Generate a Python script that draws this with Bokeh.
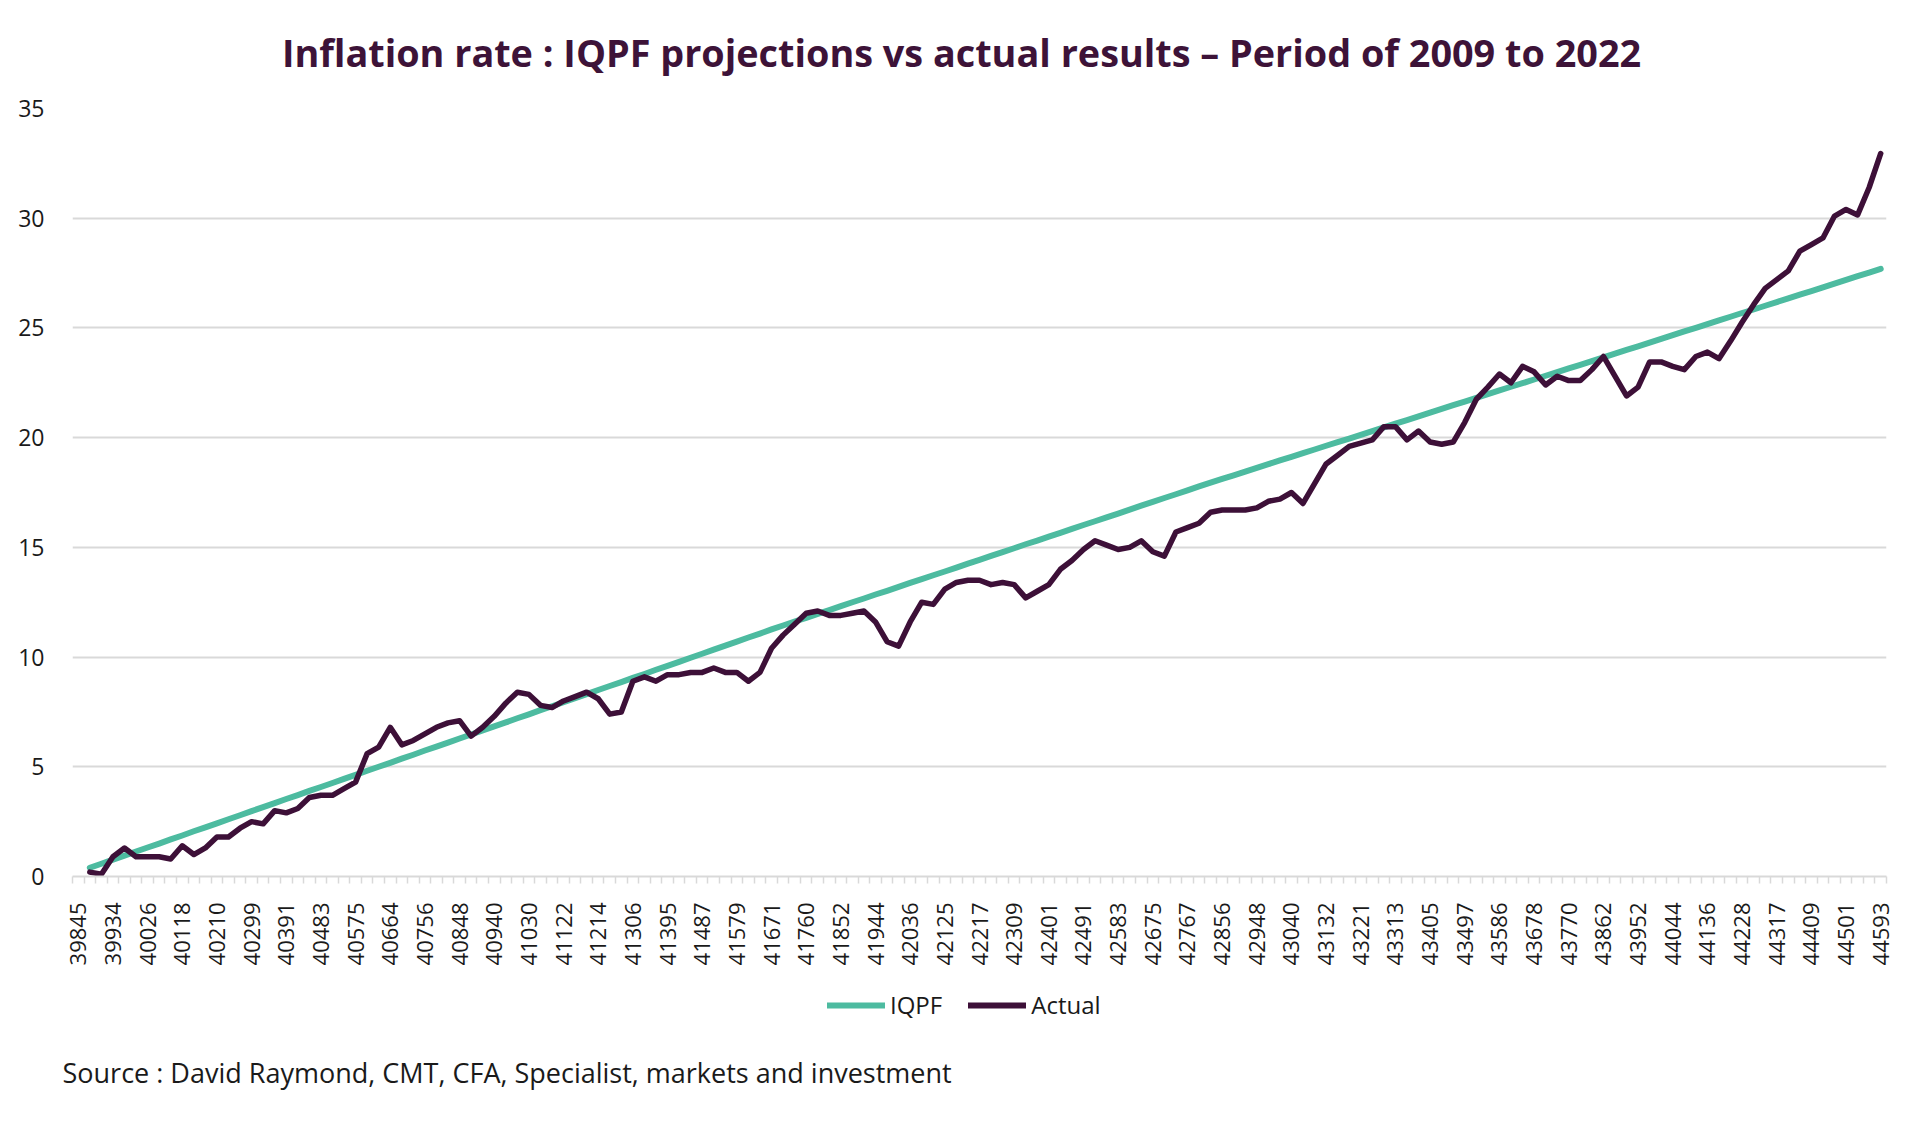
import pandas as pd
from math import pi
from bokeh.plotting import figure
from bokeh.layouts import column
from bokeh.models import (FixedTicker, Legend, LegendItem, Range1d, Title, Label,
                          ColumnDataSource)
from bokeh.embed import file_html
from bokeh.resources import INLINE

title_text = "Inflation rate : IQPF projections vs actual results \u2013 Period of 2009 to 2022"
source_text = "Source : David Raymond, CMT, CFA, Specialist, markets and investment"

# Category axis: monthly Excel serial dates, Feb 2009 .. Feb 2022
month_dates = pd.date_range("2009-02-01", "2022-02-01", freq="MS")
serials = [(d - pd.Timestamp("1899-12-30")).days for d in month_dates]

tick_labels = ["39845", "39934", "40026", "40118", "40210", "40299", "40391", "40483",
               "40575", "40664", "40756", "40848", "40940", "41030", "41122", "41214",
               "41306", "41395", "41487", "41579", "41671", "41760", "41852", "41944",
               "42036", "42125", "42217", "42309", "42401", "42491", "42583", "42675",
               "42767", "42856", "42948", "43040", "43132", "43221", "43313", "43405",
               "43497", "43586", "43678", "43770", "43862", "43952", "44044", "44136",
               "44228", "44317", "44409", "44501", "44593"]

# data months: Mar 2009 .. Feb 2022 (first category has no value)
data_serials = serials[1:]

iqpf = [0.40, 0.58, 0.77, 0.95, 1.14, 1.32, 1.50, 1.69, 1.87, 2.06, 2.24,
        2.42, 2.61, 2.79, 2.98, 3.16, 3.34, 3.53, 3.71, 3.90, 4.08,
        4.26, 4.45, 4.63, 4.82, 5.00, 5.18, 5.37, 5.55, 5.74, 5.92,
        6.10, 6.29, 6.47, 6.66, 6.84, 7.02, 7.21, 7.39, 7.58, 7.76,
        7.94, 8.13, 8.31, 8.50, 8.68, 8.86, 9.05, 9.23, 9.42, 9.60,
        9.78, 9.97, 10.15, 10.34, 10.52, 10.70, 10.89, 11.07, 11.26, 11.44,
        11.62, 11.79, 11.97, 12.14, 12.32, 12.50, 12.67, 12.85, 13.02, 13.20,
        13.38, 13.55, 13.73, 13.90, 14.08, 14.26, 14.43, 14.61, 14.78, 14.96,
        15.14, 15.31, 15.49, 15.66, 15.84, 16.02, 16.19, 16.37, 16.54, 16.72,
        16.90, 17.07, 17.25, 17.42, 17.60, 17.78,
        17.95, 18.12, 18.28, 18.45,
        18.62, 18.79, 18.96, 19.12, 19.29, 19.46, 19.63, 19.80, 19.96, 20.13,
        20.30, 20.47, 20.64, 20.80, 20.97, 21.14, 21.31, 21.48, 21.64, 21.81,
        21.98, 22.15, 22.32, 22.48, 22.65, 22.82, 22.99, 23.16, 23.32, 23.49,
        23.66, 23.83, 24.00, 24.16, 24.33, 24.50, 24.67, 24.84, 25.00, 25.17,
        25.34, 25.51, 25.68, 25.84, 26.01, 26.18, 26.35, 26.52, 26.68, 26.85,
        27.02, 27.19, 27.36, 27.52, 27.69]

actual = [0.2, 0.1, 0.9, 1.3, 0.9, 0.9, 0.9, 0.8, 1.4, 1.0,
          1.3, 1.8, 1.8, 2.2, 2.5, 2.4, 3.0, 2.9, 3.1, 3.6,
          3.7, 3.7, 4.0, 4.3, 5.6, 5.9, 6.8, 6.0, 6.2, 6.5,
          6.8, 7.0, 7.1, 6.4, 6.8, 7.3, 7.9, 8.4, 8.3, 7.8,
          7.7, 8.0, 8.2, 8.4, 8.1, 7.4, 7.5, 8.9, 9.1, 8.9,
          9.2, 9.2, 9.3, 9.3, 9.5, 9.3, 9.3, 8.9, 9.3, 10.4,
          11.0, 11.5, 12.0, 12.1, 11.9, 11.9, 12.0, 12.1, 11.6, 10.7,
          10.5, 11.6, 12.5, 12.4, 13.1, 13.4, 13.5, 13.5, 13.3, 13.4,
          13.3, 12.7, 13.0, 13.3, 14.0, 14.4, 14.9, 15.3, 15.1, 14.9,
          15.0, 15.3, 14.8, 14.6, 15.7, 15.9, 16.1, 16.6, 16.7, 16.7,
          16.7, 16.8, 17.1, 17.2, 17.5, 17.0, 17.9, 18.8, 19.2, 19.6,
          19.75, 19.9, 20.5, 20.5, 19.9, 20.3, 19.8, 19.7, 19.8, 20.7,
          21.75, 22.3, 22.9, 22.5, 23.25, 23.0, 22.4, 22.8, 22.6, 22.6,
          23.1, 23.7, 22.8, 21.9, 22.3, 23.45, 23.45, 23.25, 23.1, 23.7,
          23.9, 23.6, 24.4, 25.26, 26.06, 26.8, 27.2, 27.6, 28.5, 28.8,
          29.1, 30.1, 30.4, 30.15, 31.4, 32.95]

y_ticks = [0, 5, 10, 15, 20, 25, 30, 35]

IQPF_COLOR = "#4DBBA0"
ACTUAL_COLOR = "#3D1038"
TITLE_COLOR = "#3D1338"
GRID_COLOR = "#D9D9D9"
TEXT_COLOR = "#1A1A1A"
FONT = "Open Sans"

# positions along the category axis
pos = {s: i for i, s in enumerate(serials)}
x_data = [pos[s] for s in data_serials]
tick_pos = [pos[int(t)] for t in tick_labels]

src = ColumnDataSource(dict(x=x_data, iqpf=iqpf, actual=actual))


def blank_strip(height, bottom=0):
    f = figure(width=1920, height=height, output_backend="svg", toolbar_location=None,
               x_range=Range1d(-0.5, len(serials) - 0.5), y_range=Range1d(-20, -10),
               x_axis_type=None, y_axis_type=None,
               min_border_left=72, min_border_right=34,
               min_border_top=0, min_border_bottom=bottom)
    f.title = None
    f.outline_line_color = None
    f.xgrid.visible = False
    f.ygrid.visible = False
    f.background_fill_color = "white"
    f.border_fill_color = "white"
    return f


# ---------------- header: title ----------------
head = blank_strip(80)
head.add_layout(Label(x=889, y=28, x_units="screen", y_units="screen",
                      text=title_text, text_align="center", text_baseline="middle",
                      text_font=FONT, text_font_style="bold",
                      text_font_size="37.8px", text_color=TITLE_COLOR))

# ---------------- main chart ----------------
p = figure(width=1920, height=896, output_backend="svg", toolbar_location=None,
           x_range=Range1d(-0.5, len(serials) - 0.5), y_range=Range1d(0, 35),
           min_border_left=72, min_border_right=34, min_border_top=28,
           min_border_bottom=100)
p.title = None
p.outline_line_color = None
p.background_fill_color = "white"
p.border_fill_color = "white"

p.line("x", "iqpf", source=src, line_color=IQPF_COLOR, line_width=6,
       line_join="round", line_cap="round")
p.line("x", "actual", source=src, line_color=ACTUAL_COLOR, line_width=5.5,
       line_join="round", line_cap="round")

# y axis
p.yaxis.ticker = FixedTicker(ticks=y_ticks)
p.yaxis.axis_line_color = None
p.yaxis.major_tick_line_color = None
p.yaxis.minor_tick_line_color = None
p.yaxis.major_tick_out = 0
p.yaxis.major_label_standoff = 28
p.yaxis.major_label_text_font = FONT
p.yaxis.major_label_text_font_size = "23px"
p.yaxis.major_label_text_color = TEXT_COLOR
p.ygrid.ticker = FixedTicker(ticks=y_ticks)
p.ygrid.grid_line_color = GRID_COLOR
p.ygrid.grid_line_width = 2
p.xgrid.grid_line_color = None

# x axis (category style)
boundaries = [i - 0.5 for i in range(len(serials) + 1)]
p.xaxis.ticker = FixedTicker(ticks=tick_pos, minor_ticks=boundaries)
p.xaxis.major_label_overrides = {tp: lab for tp, lab in zip(tick_pos, tick_labels)}
p.xaxis.major_label_orientation = pi / 2
p.xaxis.axis_line_color = GRID_COLOR
p.xaxis.axis_line_width = 2
p.xaxis.major_tick_line_color = None
p.xaxis.major_tick_out = 0
p.xaxis.major_tick_in = 0
p.xaxis.minor_tick_line_color = GRID_COLOR
p.xaxis.minor_tick_line_width = 1.5
p.xaxis.minor_tick_out = 7
p.xaxis.minor_tick_in = 0
p.xaxis.major_label_standoff = 19
p.xaxis.major_label_text_font = FONT
p.xaxis.major_label_text_font_size = "22px"
p.xaxis.major_label_text_color = TEXT_COLOR

# ---------------- footer: legend + source ----------------
# the series are drawn again here outside the visible y range, only to feed the legend
foot = blank_strip(145, bottom=75)
k_iqpf = foot.line("x", "iqpf", source=src, line_color=IQPF_COLOR, line_width=6,
                   line_cap="round")
k_act = foot.line("x", "actual", source=src, line_color=ACTUAL_COLOR, line_width=6,
                  line_cap="round")

legend = Legend(items=[LegendItem(label="IQPF", renderers=[k_iqpf]),
                       LegendItem(label="Actual", renderers=[k_act])],
                orientation="horizontal", location=(755, 25),
                glyph_width=58, glyph_height=30, label_height=30,
                label_standoff=5, spacing=26, padding=0, margin=0,
                border_line_color=None, background_fill_alpha=0,
                label_text_font=FONT, label_text_font_size="24px",
                label_text_color=TEXT_COLOR)
foot.add_layout(legend, "center")

foot.add_layout(Title(text=source_text, align="left", offset=-10, standoff=10,
                      text_font=FONT, text_font_style="normal",
                      text_font_size="27px", text_color=TEXT_COLOR), "below")

layout = column(head, p, foot, spacing=0)
open("out.html", "w").write(file_html(layout, INLINE))
